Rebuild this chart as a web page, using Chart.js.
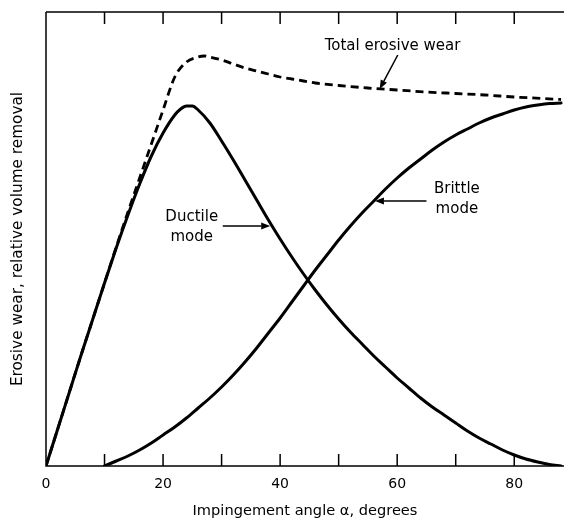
<!DOCTYPE html>
<html>
<head>
<meta charset="utf-8">
<script src="https://cdn.jsdelivr.net/npm/chart.js@4.4.0/dist/chart.umd.min.js"></script>
<style>
  html, body { margin: 0; padding: 0; background: #fff; }
  #wrap { width: 565px; height: 521px; }
</style>
</head>
<body>
<div id="wrap"><canvas id="c" width="565" height="521"></canvas></div>
<script>
// ---- data (angles in degrees, relative volume removal in arbitrary units) ----
const ductileAngles = [0, 2, 4, 6, 8, 10, 12, 14, 16, 18, 20, 22, 23, 24, 25, 26, 28, 30, 32, 34, 36, 38, 40, 42, 44, 46, 48, 50, 52, 54, 56, 58, 60, 62, 64, 66, 68, 70, 72, 74, 76, 78, 80, 82, 84, 86, 88];
const ductileValues = [0, 37, 74, 111, 147, 183, 218, 251, 282, 310, 333, 351, 357, 360, 360, 356, 343, 325, 306, 286, 266, 246, 227, 209, 192, 176, 161, 147, 134, 122, 110, 99, 88, 78, 68, 59, 51, 43, 35, 28, 22, 16, 11, 7, 4, 1.5, 0];

const brittleAngles = [10, 12, 14, 16, 18, 20, 22, 24, 26, 28, 30, 32, 34, 36, 38, 40, 42, 44, 46, 48, 50, 52, 54, 56, 58, 60, 62, 64, 66, 68, 70, 72, 74, 76, 78, 80, 82, 84, 86, 88];
const brittleValues = [0, 5, 10, 16, 23, 31, 39, 48, 58, 68, 79, 91, 104, 118, 133, 148, 164, 180, 196, 211, 226, 240, 253, 265, 277, 288, 298, 307, 316, 324, 331, 337, 343, 348, 352, 356, 359, 361, 362.5, 363];

const totalAngles = [0, 2, 4, 6, 8, 10, 12, 14, 16, 18, 20, 22, 24, 26, 27, 28, 30, 32, 34, 36, 38, 40, 42, 44, 46, 50, 55, 60, 65, 70, 75, 80, 85, 88];
const totalValues = [0, 37, 74, 111, 147, 183, 219, 254, 288, 322, 356, 389, 404, 409, 410, 409, 406, 402, 398, 395, 392, 389, 387, 385, 383, 380.5, 378, 376, 374, 372.5, 371, 369, 367.5, 366.5];

const tickMarks = [0, 10, 20, 30, 40, 50, 60, 70, 80];
const tickLabels = ['0', '20', '40', '60', '80'];

const xTitle = 'Impingement angle \u03b1, degrees';
const yTitle = 'Erosive wear, relative volume removal';

// annotation text and arrows, placed in data units
const notes = [
  { lines: ['Total erosive wear'], x: 59.2, y: 420, arrow: { from: [60.1, 411], to: [57, 377] } },
  { lines: ['Ductile', 'mode'], x: 24.9, y: 239, arrow: { from: [30.2, 240], to: [38.3, 240] } },
  { lines: ['Brittle', 'mode'], x: 70.2, y: 267, arrow: { from: [65.0, 265], to: [56.2, 265] } }
];

const pts = (xs, ys) => xs.map((v, i) => ({ x: v, y: ys[i] }));

const FONT = '"DejaVu Sans", sans-serif';

const decor = {
  id: 'decor',
  afterDraw(chart) {
    const { ctx, chartArea: a, scales: { x, y } } = chart;
    ctx.save();
    ctx.strokeStyle = '#000';
    ctx.lineWidth = 1.5;
    ctx.beginPath();
    ctx.moveTo(a.left, a.top); ctx.lineTo(a.right, a.top);
    ctx.moveTo(a.left, a.top); ctx.lineTo(a.left, a.bottom); ctx.lineTo(a.right, a.bottom);
    tickMarks.forEach(v => {
      if (v === 0) return;
      const px = x.getPixelForValue(v);
      ctx.moveTo(px, a.bottom); ctx.lineTo(px, a.bottom - 12);
      ctx.moveTo(px, a.top); ctx.lineTo(px, a.top + 12);
    });
    ctx.stroke();

    ctx.fillStyle = '#000';
    ctx.font = '15px ' + FONT;
    ctx.textAlign = 'center';
    ctx.textBaseline = 'middle';
    notes.forEach(n => {
      const cx = x.getPixelForValue(n.x);
      const cy = y.getPixelForValue(n.y);
      const lh = 20;
      const y0 = cy - (n.lines.length - 1) * lh / 2;
      n.lines.forEach((t, i) => ctx.fillText(t, cx, y0 + i * lh));
      if (n.arrow) {
        const x1 = x.getPixelForValue(n.arrow.from[0]), y1 = y.getPixelForValue(n.arrow.from[1]);
        const x2 = x.getPixelForValue(n.arrow.to[0]), y2 = y.getPixelForValue(n.arrow.to[1]);
        const ang = Math.atan2(y2 - y1, x2 - x1);
        const hl = 9, hw = 3.5;
        const bx = x2 - hl * Math.cos(ang), by = y2 - hl * Math.sin(ang);
        ctx.beginPath();
        ctx.lineWidth = 1.5;
        ctx.moveTo(x1, y1); ctx.lineTo(bx, by);
        ctx.stroke();
        ctx.beginPath();
        ctx.moveTo(x2, y2);
        ctx.lineTo(bx + hw * Math.sin(ang), by - hw * Math.cos(ang));
        ctx.lineTo(bx - hw * Math.sin(ang), by + hw * Math.cos(ang));
        ctx.closePath();
        ctx.fill();
      }
    });
    ctx.restore();
  }
};

const common = { showLine: true, pointRadius: 0, borderColor: '#000', borderWidth: 3, fill: false, cubicInterpolationMode: 'monotone', borderCapStyle: 'round', borderJoinStyle: 'round' };

new Chart(document.getElementById('c'), {
  type: 'scatter',
  data: {
    datasets: [
      Object.assign({ label: 'Ductile mode', data: pts(ductileAngles, ductileValues) }, common),
      Object.assign({ label: 'Brittle mode', data: pts(brittleAngles, brittleValues) }, common),
      Object.assign({ label: 'Total erosive wear', data: pts(totalAngles, totalValues) }, common, { borderDash: [8, 5], borderCapStyle: 'butt', borderWidth: 2.8 })
    ]
  },
  plugins: [decor],
  options: {
    responsive: false,
    animation: false,
    layout: { padding: { top: 12, right: 1, left: 0, bottom: 0 } },
    plugins: { legend: { display: false }, tooltip: { enabled: false } },
    scales: {
      x: {
        type: 'linear', min: 0, max: 88.5,
        grid: { display: false },
        border: { display: false },
        ticks: {
          stepSize: 10, autoSkip: false, includeBounds: false, maxRotation: 0,
          padding: 2, color: '#000', font: { family: FONT, size: 14 },
          callback: v => tickLabels.includes(String(v)) ? String(v) : ''
        },
        title: { display: true, text: xTitle, color: '#000', font: { family: FONT, size: 14.6 }, padding: { top: 4, bottom: 1 } },
        afterFit: s => { s.height = 55; }
      },
      y: {
        type: 'linear', min: 0, max: 454,
        grid: { display: false },
        border: { display: false },
        ticks: { display: false },
        title: { display: true, text: yTitle, color: '#000', font: { family: FONT, size: 15.3 }, padding: { top: 9, bottom: 0 } },
        afterFit: s => { s.width = 46; }
      }
    }
  }
});
</script>
</body>
</html>
